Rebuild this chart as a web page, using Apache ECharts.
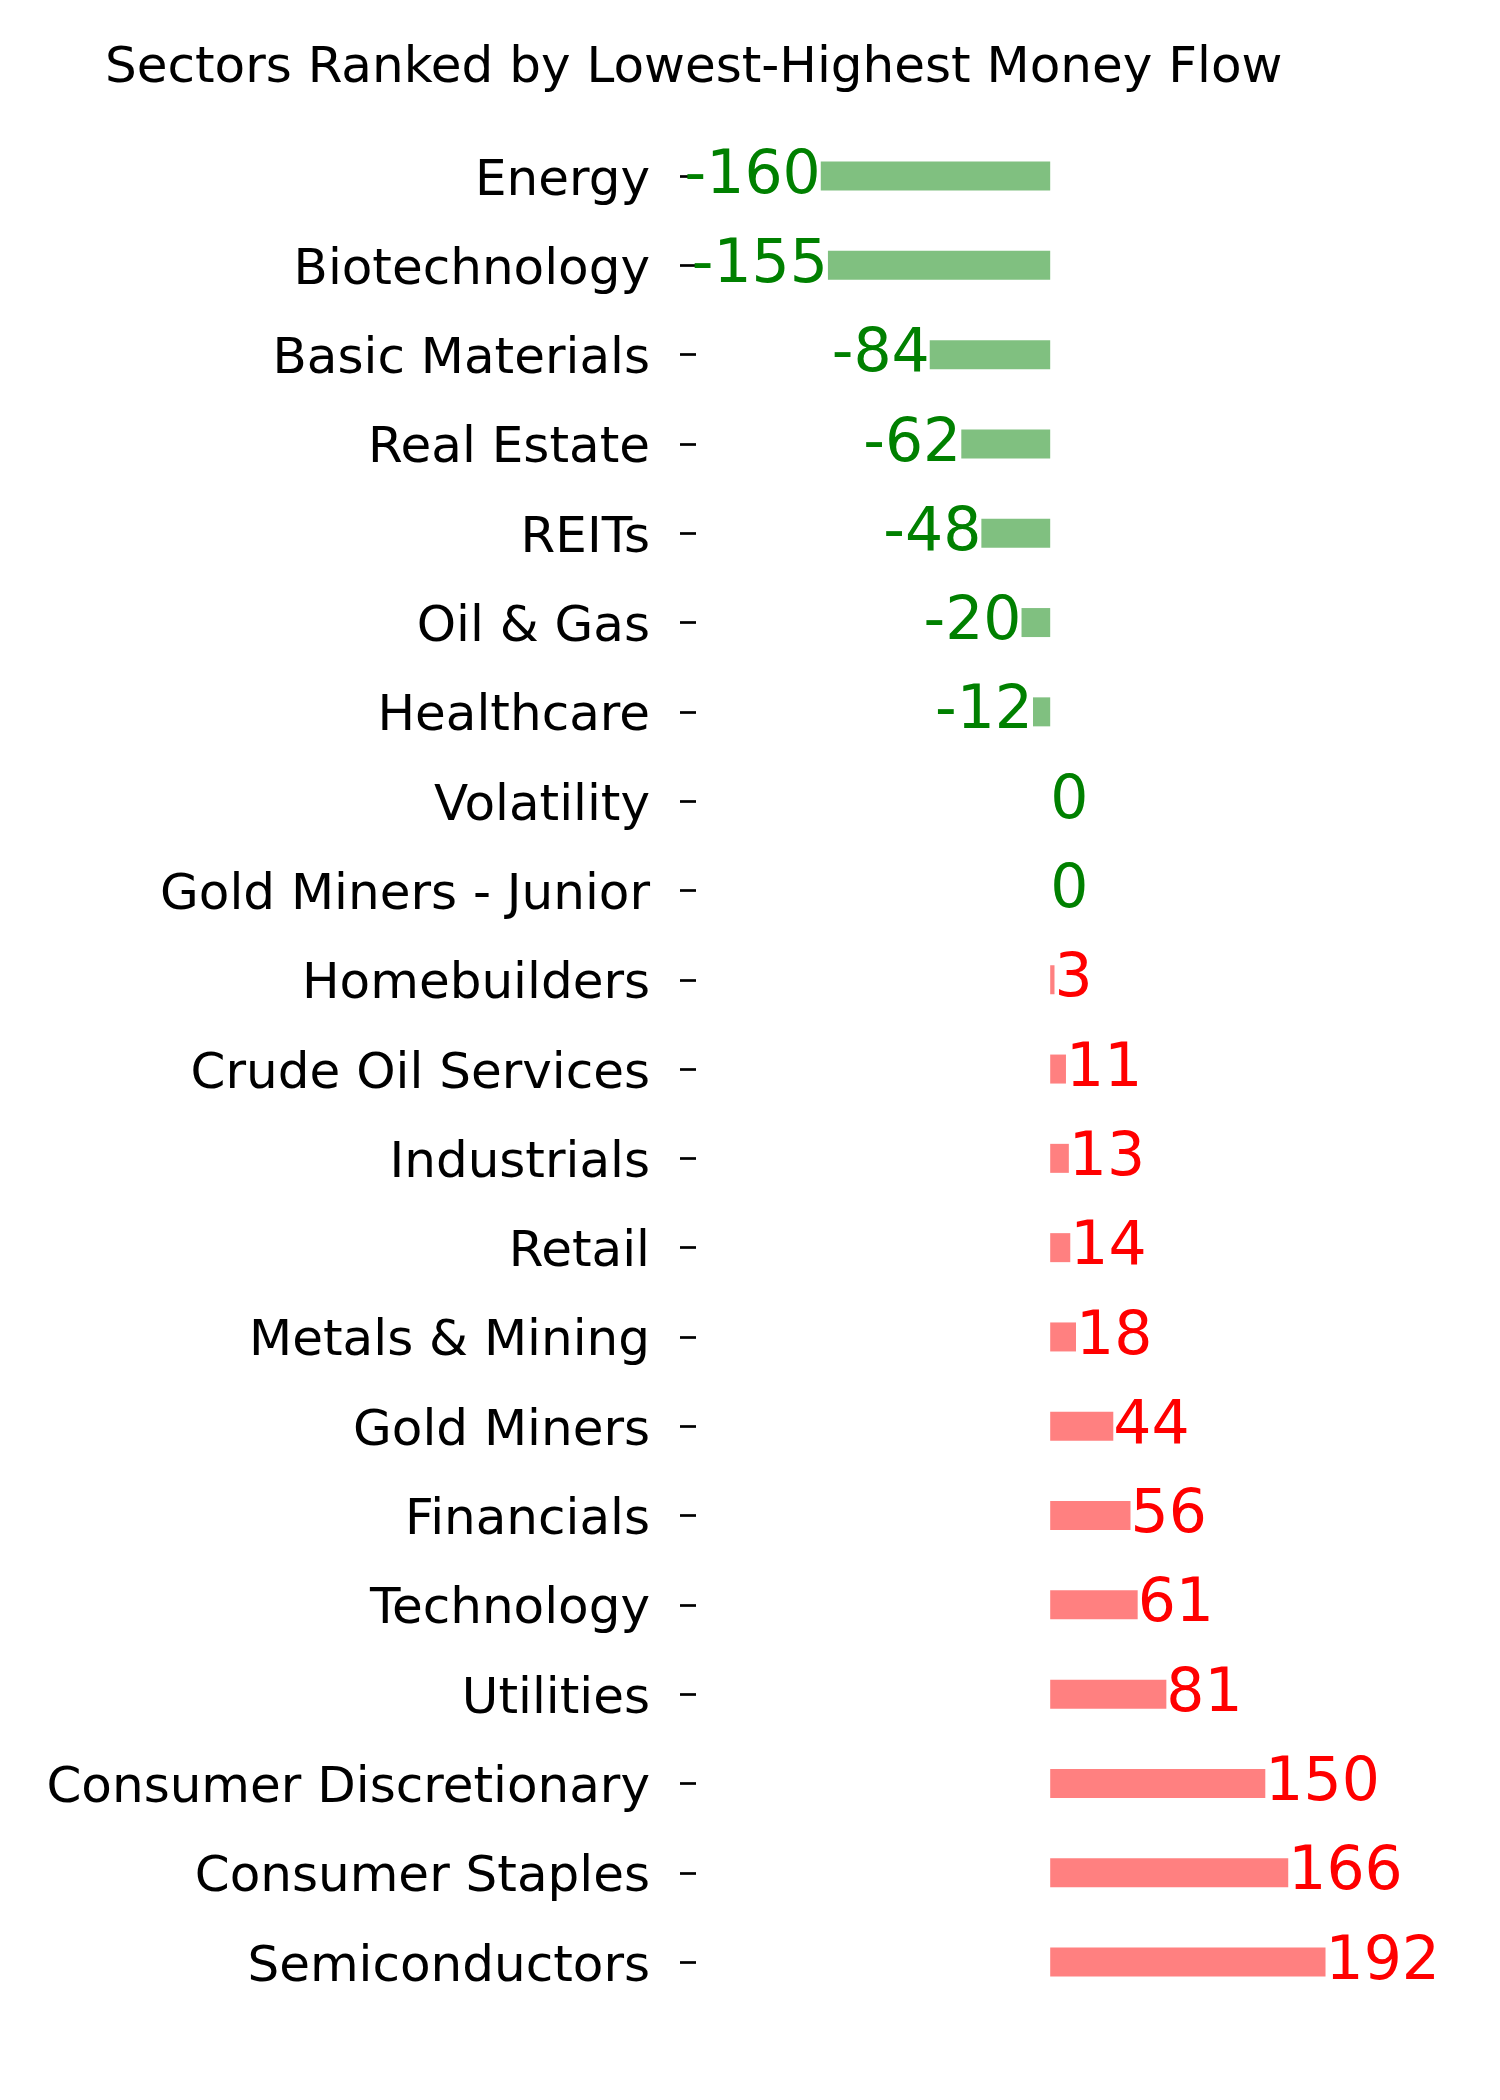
<!DOCTYPE html>
<html>
<head>
<meta charset="utf-8">
<script src="https://cdn.jsdelivr.net/npm/echarts@6/dist/echarts.min.js"></script>
<style>
    body{margin:0;background:#fff;}
</style>
</head>
<body>
<div id="main" style="width: 1500px;height:2100px;"></div>
<script>
var sectors = ['Energy', 'Biotechnology', 'Basic Materials', 'Real Estate', 'REITs', 'Oil & Gas',
    'Healthcare', 'Volatility', 'Gold Miners - Junior', 'Homebuilders', 'Crude Oil Services',
    'Industrials', 'Retail', 'Metals & Mining', 'Gold Miners', 'Financials', 'Technology',
    'Utilities', 'Consumer Discretionary', 'Consumer Staples', 'Semiconductors'];
var flows = [-160, -155, -84, -62, -48, -20, -12, 0, 0, 3, 11, 13, 14, 18, 44, 56, 61, 81, 150, 166, 192];

var greenBar = '#80c080';
var redBar = '#ff8080';
var greenText = '#008000';
var redText = '#ff0000';

var myChart = echarts.init(document.getElementById('main'));

// one item per sector, colour and label side depend on the sign
var barData = [];
for (var i = 0; i < flows.length; i++) {
    var v = flows[i];
    barData.push({
        value: v,
        itemStyle: {color: v > 0 ? redBar : greenBar},
        label: {
            position: v < 0 ? 'left' : 'right',
            color: v > 0 ? redText : greenText
        }
    });
}

var option = {
    animation: false,
    backgroundColor: '#fff',
    title: {
        text: 'Sectors Ranked by Lowest-Highest Money Flow',
        left: 100,
        top: 39,
        textStyle: {
            fontFamily: 'DejaVu Sans',
            fontSize: 50,
            fontWeight: 'normal',
            color: '#000'
        }
    },
    grid: {
        left: 696,
        right: 87,
        top: 131.4,
        height: 1875.3,
        containLabel: false
    },
    xAxis: {
        type: 'value',
        min: -247,
        max: 253,
        show: false
    },
    yAxis: {
        type: 'category',
        data: sectors,
        inverse: true,
        axisLine: {show: false, onZero: false},
        axisTick: {
            show: true,
            alignWithLabel: true,
            length: 16,
            lineStyle: {color: '#000', width: 2.7}
        },
        axisLabel: {
            margin: 46,
            fontFamily: 'DejaVu Sans',
            fontSize: 50,
            color: '#000',
            verticalAlign: 'top',
            lineHeight: 11
        },
        splitLine: {show: false}
    },
    series: [
        {
            type: 'bar',
            data: barData,
            barWidth: 29,
            label: {
                show: true,
                distance: 0,
                offset: [0, 1],
                fontFamily: 'DejaVu Sans',
                fontSize: 60
            }
        }
    ]
};
myChart.setOption(option);
</script>
</body>
</html>
